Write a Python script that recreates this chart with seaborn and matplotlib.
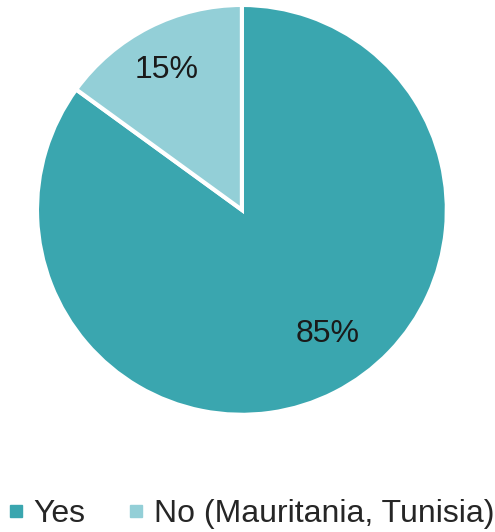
import matplotlib.pyplot as plt
import seaborn as sns
from matplotlib.lines import Line2D

labels = ["Yes", "No (Mauritania, Tunisia)"]
shares = [85, 15]
colors = ["#3AA6AF", "#93CFD7"]

sns.set_theme(style="white")
plt.rcParams['font.family'] = ['Liberation Sans', 'DejaVu Sans']

fig = plt.figure(figsize=(4.95, 5.32), dpi=100)
ax = fig.add_axes([0.0747, 0.22, 0.828, 0.771])

wedges, texts, autotexts = ax.pie(shares, colors=colors, startangle=90, counterclock=False,
                                  autopct='%d%%', pctdistance=0.74,
                                  wedgeprops=dict(edgecolor='white', linewidth=3),
                                  textprops=dict(fontsize=23, color='#1a1a1a'))
# data labels sit where Excel put them
autotexts[0].set_position((0.42, -0.605))
autotexts[1].set_position((-0.366, 0.683))
ax.set_xlim(-1, 1)
ax.set_ylim(-1, 1)
ax.set_aspect('equal')

handles = [Line2D([0], [0], marker='s', linestyle='', markersize=8.5,
                  markerfacecolor=c, markeredgecolor=c) for c in colors]
fig.legend(handles, labels, loc='lower center', bbox_to_anchor=(0.507, -0.048), ncol=2,
           frameon=False, fontsize=23, handlelength=0.5, handletextpad=0.3,
           columnspacing=1.35)

fig.savefig("out.png", dpi=100)
